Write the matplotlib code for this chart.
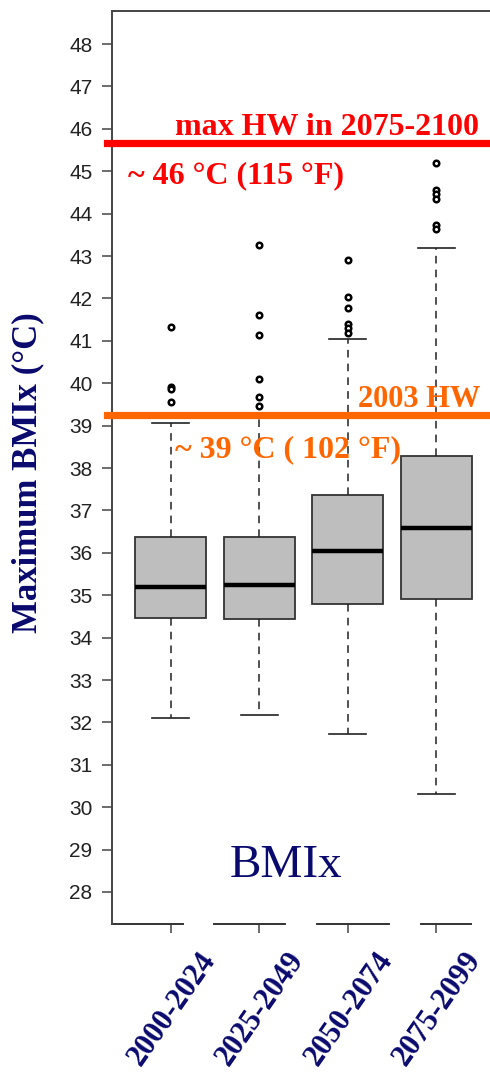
import matplotlib
matplotlib.use("Agg")
import matplotlib.pyplot as plt
import matplotlib.transforms as mtransforms

# Periods on the x axis
periods = ["2000-2024", "2025-2049", "2050-2074", "2075-2099"]

# Box statistics (deg C)
q1 = [34.47, 34.43, 34.79, 34.90]
medians = [35.19, 35.25, 36.04, 36.58]
q3 = [36.37, 36.37, 37.36, 38.28]
whisker_low = [32.11, 32.17, 31.72, 30.30]
whisker_high = [39.07, 39.25, 41.04, 43.18]
outliers = [
    [41.33, 39.90, 39.86, 39.56],
    [43.25, 41.60, 41.13, 40.09, 39.67, 39.47],
    [42.91, 42.03, 41.77, 41.40, 41.30, 41.19],
    [45.20, 44.56, 44.46, 44.34, 43.73, 43.63],
]

# Reference heat waves
max_hw = 45.66
hw_2003 = 39.25

yticks = list(range(28, 49))

NAVY = "#0a0a6e"
RED = "#ff0000"
ORANGE = "#ff6600"
SERIF = ["Liberation Serif", "DejaVu Serif"]

fig = plt.figure(figsize=(4.9, 10.78), dpi=100)
ax = fig.add_axes([112 / 490, 154 / 1078, 383 / 490, 913 / 1078])

stats = []
for i, lab in enumerate(periods):
    stats.append(dict(label=lab, q1=q1[i], med=medians[i], q3=q3[i],
                      whislo=whisker_low[i], whishi=whisker_high[i],
                      fliers=outliers[i]))

positions = list(range(1, len(periods) + 1))
ax.bxp(stats, positions=positions, widths=0.8, patch_artist=True,
       boxprops=dict(facecolor="#bebebe", edgecolor="#333333", linewidth=1.3),
       medianprops=dict(color="black", linewidth=3.2),
       whiskerprops=dict(color="#222222", linewidth=1.1, linestyle=(0, (5, 4))),
       capprops=dict(color="#222222", linewidth=1.2),
       flierprops=dict(marker="o", markersize=4, markerfacecolor="white",
                       markeredgecolor="black", markeredgewidth=1.8),
       capwidths=0.42)

ax.set_xlim(0.34, 4.66)
ax.set_ylim(27.245, 48.78)
ax.set_yticks(yticks)
ax.set_yticklabels([str(t) for t in yticks], fontsize=15, color="#222222",
                   family=["Liberation Sans", "DejaVu Sans"])
ax.tick_params(axis="y", length=7, width=1.1, color="#444444", pad=7)
ax.tick_params(axis="x", length=6.5, width=1.1, color="#444444")
ax.set_xticks(positions)
ax.set_xticklabels([])

for side in ["left", "top"]:
    ax.spines[side].set_color("#444444")
    ax.spines[side].set_linewidth(1.4)
ax.spines["right"].set_visible(False)
ax.spines["bottom"].set_visible(False)

# bottom axis drawn in broken pieces as in the original
bottom_pieces = [(0.34, 1.14), (1.49, 2.29), (2.65, 3.46), (3.82, 4.39)]
for a, b in bottom_pieces:
    ax.plot([a, b], [0, 0], color="#333333", lw=1.4,
            transform=ax.get_xaxis_transform(), clip_on=False)

# rotated period labels
shift = mtransforms.ScaledTranslation(0.39, -0.31, fig.dpi_scale_trans)
for p, lab in zip(positions, periods):
    ax.text(p, 0, lab, transform=ax.get_xaxis_transform() + shift,
            rotation=55, rotation_mode="anchor", ha="right", va="center",
            fontsize=22, fontweight="bold", color=NAVY, family=SERIF,
            clip_on=False)

# heat-wave reference lines
ax.axhline(max_hw, xmin=-0.012, xmax=1, color=RED, lw=5.2, clip_on=False,
           zorder=5)
ax.axhline(hw_2003, xmin=-0.012, xmax=1, color=ORANGE, lw=5.2, clip_on=False,
           zorder=5)

ax.text(1.05, 45.85, "max HW in 2075-2100", color=RED, fontsize=23,
        fontweight="bold", family=SERIF, va="baseline", zorder=6)
ax.text(0.52, 44.72, "~ 46 °C (115 °F)", color=RED, fontsize=23,
        fontweight="bold", family=SERIF, va="baseline", zorder=6)
ax.text(3.12, 39.44, "2003 HW", color=ORANGE, fontsize=22,
        fontweight="bold", family=SERIF, va="baseline", zorder=6)
ax.text(1.05, 38.26, "~ 39 °C ( 102 °F)", color=ORANGE, fontsize=23,
        fontweight="bold", family=SERIF, va="baseline", zorder=6)
ax.text(1.67, 28.35, "BMIx", color=NAVY, fontsize=34, family=SERIF,
        va="baseline")

fig.text(28 / 490, 1 - 473 / 1078, "Maximum BMIx (°C)", rotation=90,
         ha="center", va="center", fontsize=25, fontweight="bold",
         color=NAVY, family=SERIF)

fig.savefig("out.png", dpi=100)
